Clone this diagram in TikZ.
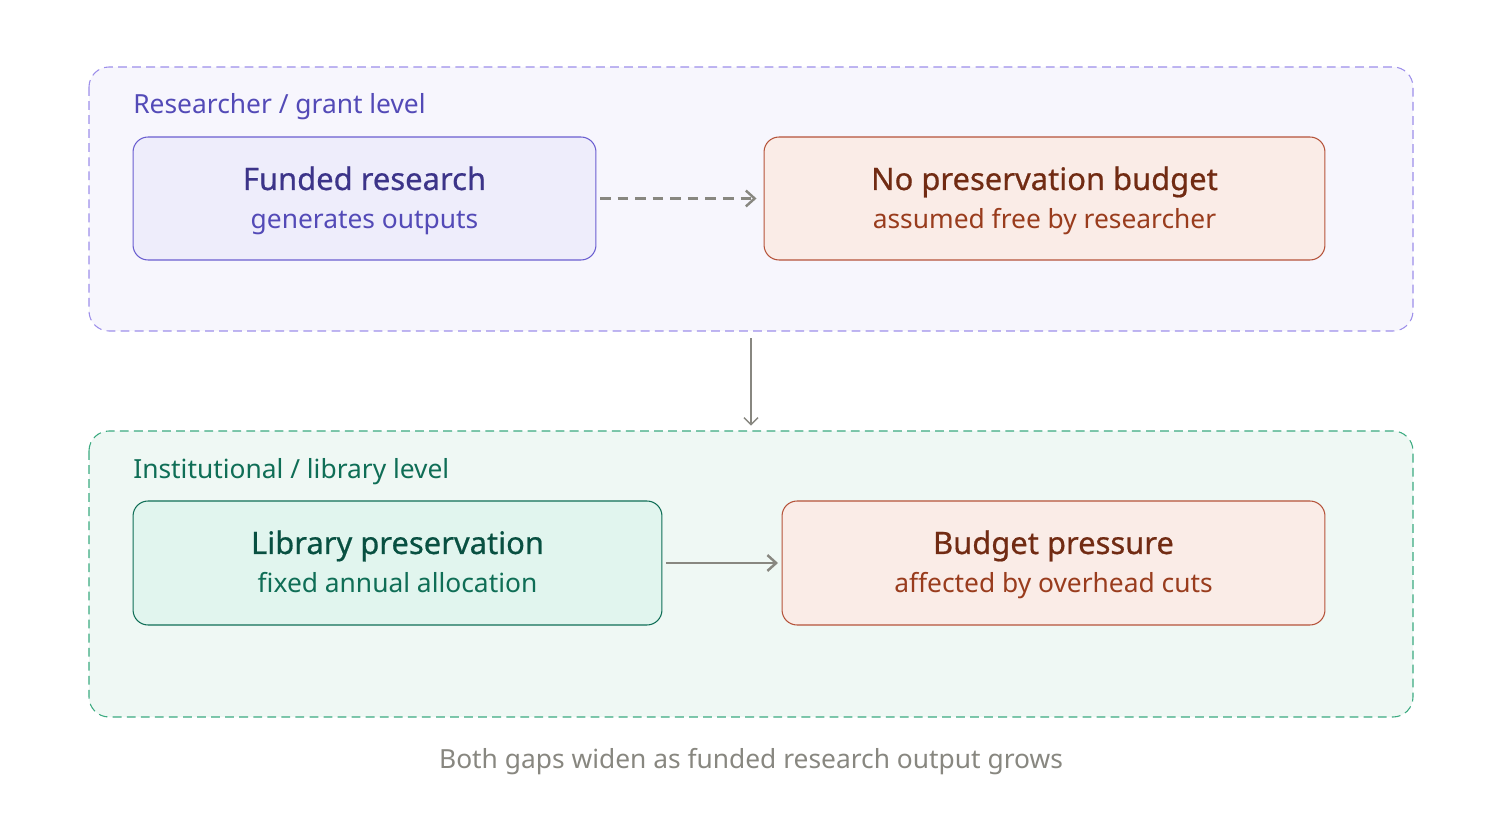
\documentclass[tikz,border=0pt]{standalone}
\usepackage{fontspec}
\setmainfont{Noto Sans}
\usetikzlibrary{arrows.meta}
\definecolor{purpfill}{HTML}{F7F6FD}
\definecolor{purpline}{HTML}{9D8FEA}
\definecolor{purptext}{HTML}{534AB7}
\definecolor{purpdark}{HTML}{3C3489}
\definecolor{purpbox}{HTML}{EEEDFB}
\definecolor{purpedge}{HTML}{6A5ED0}
\definecolor{greenfill}{HTML}{EFF8F4}
\definecolor{greenline}{HTML}{3BAA80}
\definecolor{greentext}{HTML}{0F6E56}
\definecolor{greendark}{HTML}{085041}
\definecolor{greenbox}{HTML}{E1F5EE}
\definecolor{redbox}{HTML}{FAECE7}
\definecolor{rededge}{HTML}{B5533A}
\definecolor{reddark}{HTML}{712B13}
\definecolor{redtext}{HTML}{993C1D}
\definecolor{arrgray}{HTML}{888780}

\begin{document}
\begin{tikzpicture}[x=0.02cm,y=-0.02cm,
    group/.style={draw,dash pattern=on 5pt off 3pt,rounded corners=0.4cm,line width=0.6pt},
    box/.style={draw,rounded corners=0.3cm,line width=0.6pt,align=center,inner sep=0pt},
    title/.style={anchor=base,inner sep=0pt,font=\fontsize{17.6}{20}\selectfont\addfontfeatures{FakeBold=0.6}},
    sub/.style={anchor=base,inner sep=0pt,font=\fontsize{15}{18}\selectfont},
    flow/.style={draw=arrgray,line width=1.4pt,-{Straight Barb[length=5pt,width=9pt]}}]
        \useasboundingbox (0,0) rectangle (1502,817);
        % Groups
        \draw[group,draw=purpline,fill=purpfill] (89,67) rectangle (1413,331);
        \coordinate (top) at (751,331);
        \node[sub,anchor=base west,text=purptext] (grantlbl) at (133,114) {Researcher / grant level};
        \draw[group,draw=greenline,fill=greenfill] (89,431) rectangle (1413,717);
        \coordinate (bottom) at (751,431);
        \node[sub,anchor=base west,text=greentext] (liblbl) at (133,479) {Institutional / library level};

        % Boxes
        \node[box,draw=purpedge,fill=purpbox,minimum width=9.26cm,minimum height=2.46cm] (funded) at (364.5,198.5) {};
        \node[title,text=purpdark] at (364.5,190) {Funded research};
        \node[sub,text=purptext] at (364.5,229) {generates outputs};

        \node[box,draw=rededge,fill=redbox,minimum width=11.22cm,minimum height=2.46cm] (nobudget) at (1044.5,198.5) {};
        \node[title,text=reddark] at (1044.5,190) {No preservation budget};
        \node[sub,text=redtext] at (1044.5,229) {assumed free by researcher};

        \node[box,draw=greentext,fill=greenbox,minimum width=10.58cm,minimum height=2.48cm] (library) at (397.5,563) {};
        \node[title,text=greendark] at (397.5,554) {Library preservation};
        \node[sub,text=greentext] at (397.5,593) {fixed annual allocation};

        \node[box,draw=rededge,fill=redbox,minimum width=10.86cm,minimum height=2.48cm] (pressure) at (1053.5,563) {};
        \node[title,text=reddark] at (1053.5,554) {Budget pressure};
        \node[sub,text=redtext] at (1053.5,593) {affected by overhead cuts};

        % Arrows
        \draw[flow,dash pattern=on 6pt off 4pt,shorten <=2pt,shorten >=4pt] (funded) -- (nobudget);
        \draw[flow,shorten <=2pt,shorten >=2pt] (library) -- (pressure);
        \draw[draw=arrgray,line width=0.8pt,-{Straight Barb[length=4pt,width=8pt]},shorten <=4pt,shorten >=3pt] (top) -- (bottom);

        % Caption
        \node[sub,text=arrgray] (caption) at (751,768) {Both gaps widen as funded research output grows};
    \end{tikzpicture}
\end{document}
